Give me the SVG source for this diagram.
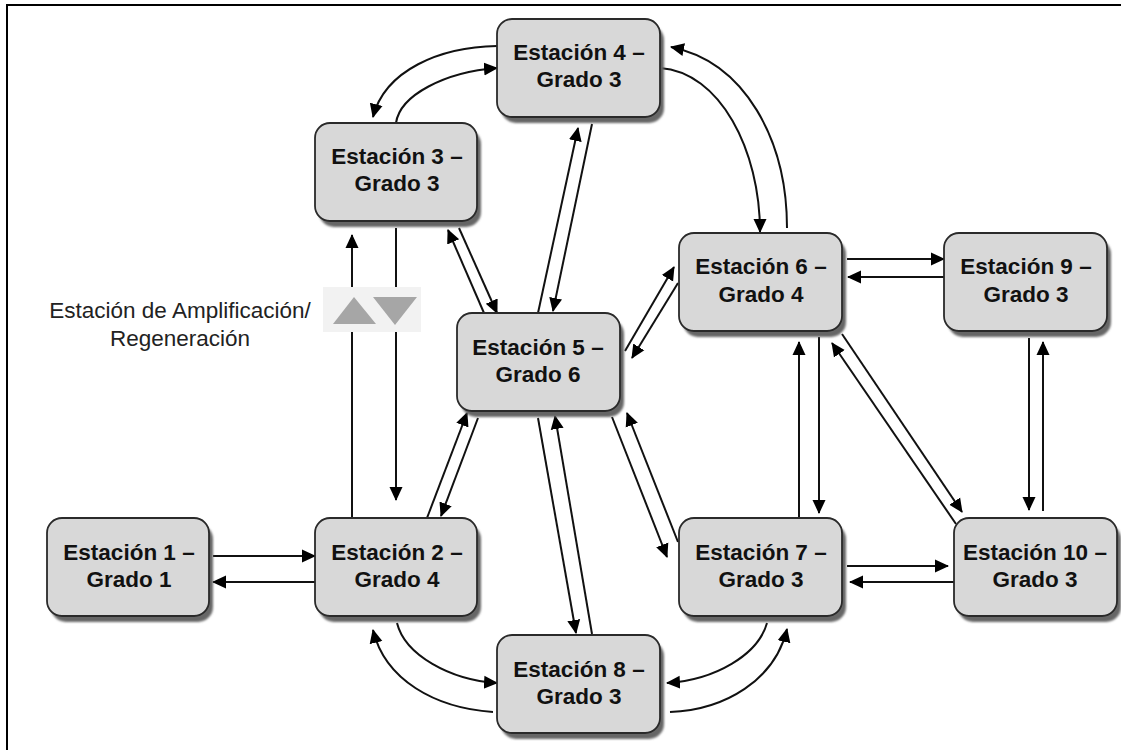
<svg xmlns="http://www.w3.org/2000/svg" width="1121" height="750" viewBox="0 0 1121 750">
<style>
.box{fill:#d8d8d8;stroke:#2a2a2a;stroke-width:1.8}
.shadow{fill:#666;filter:url(#soft)}
.lbl{font-family:"Liberation Sans",Arial,sans-serif;font-weight:bold;font-size:22.5px;fill:#111;text-anchor:middle}
.legend{font-family:"Liberation Sans",Arial,sans-serif;font-size:22.5px;fill:#222;text-anchor:middle}
#connectors path{fill:none;stroke:#111;stroke-width:2;marker-end:url(#arrow)}
</style>
<defs>
<filter id="soft" x="-10%" y="-10%" width="120%" height="120%"><feGaussianBlur stdDeviation="0.8"/></filter>
<marker id="arrow" markerUnits="userSpaceOnUse" markerWidth="16" markerHeight="16" refX="13" refY="7" orient="auto"><path d="M0 0.5L14 7L0 13.5Z" fill="#000"/></marker>
</defs>
<rect width="1121" height="750" fill="#fff"/>
<path d="M7 750V5H1121" fill="none" stroke="#000" stroke-width="2"/>
<g id="connectors">
<path d="M213 556H315"/>
<path d="M315 582H213"/>
<path d="M352 518V235"/>
<path d="M396 228V500"/>
<path d="M459 228L497 313"/>
<path d="M484 313L448 230"/>
<path d="M497 46C440 47 385 70 373 117"/>
<path d="M396 123C400 95 445 72 497 68"/>
<path d="M538 313L578 128"/>
<path d="M592 124L553 311"/>
<path d="M625 351L674 267"/>
<path d="M678 283L632 358"/>
<path d="M427 518L467 413"/>
<path d="M478 418L441 516"/>
<path d="M538 418L576 633"/>
<path d="M592 634L555 416"/>
<path d="M612 417L667 557"/>
<path d="M678 542L627 413"/>
<path d="M799 518V342"/>
<path d="M819 337V513"/>
<path d="M842 334L962 512"/>
<path d="M956 524L832 343"/>
<path d="M847 259H944"/>
<path d="M944 277H848"/>
<path d="M1029 338V510"/>
<path d="M1043 511V342"/>
<path d="M847 566H948"/>
<path d="M954 582H850"/>
<path d="M660 68C720 72 760 150 760 232"/>
<path d="M787 228C787 140 745 62 671 47"/>
<path d="M397 623C405 655 450 680 497 683"/>
<path d="M493 712C435 708 385 680 373 630"/>
<path d="M767 623C758 655 715 680 667 683"/>
<path d="M670 712C725 710 775 680 787 629"/>
</g>
<g id="amplificador">
<rect x="323" y="287" width="98" height="45" fill="#f2f2f2"/>
<path d="M333 324L376 324L354 297Z" fill="#a6a6a6"/>
<path d="M373 297L417 297L395 325Z" fill="#a6a6a6"/>
<text class="legend" x="180" y="318">Estación de Amplificación/</text>
<text class="legend" x="180" y="346">Regeneración</text>
</g>
<g id="s1"><rect class="shadow" x="51" y="524" width="162" height="98" rx="15"/><rect class="box" x="47" y="518" width="162" height="98" rx="15"/><text class="lbl" x="129" y="560">Estación 1 –</text><text class="lbl" x="129" y="587">Grado 1</text></g>
<g id="s2"><rect class="shadow" x="319" y="524" width="162" height="98" rx="15"/><rect class="box" x="315" y="518" width="162" height="98" rx="15"/><text class="lbl" x="397" y="560">Estación 2 –</text><text class="lbl" x="397" y="587">Grado 4</text></g>
<g id="s3"><rect class="shadow" x="319" y="129" width="162" height="98" rx="15"/><rect class="box" x="315" y="123" width="162" height="98" rx="15"/><text class="lbl" x="397" y="164">Estación 3 –</text><text class="lbl" x="397" y="191">Grado 3</text></g>
<g id="s4"><rect class="shadow" x="501" y="25" width="163" height="98" rx="15"/><rect class="box" x="497" y="19" width="163" height="98" rx="15"/><text class="lbl" x="579" y="60">Estación 4 –</text><text class="lbl" x="579" y="87">Grado 3</text></g>
<g id="s5"><rect class="shadow" x="461" y="319" width="163" height="98" rx="15"/><rect class="box" x="457" y="313" width="163" height="98" rx="15"/><text class="lbl" x="538" y="355">Estación 5 –</text><text class="lbl" x="538" y="382">Grado 6</text></g>
<g id="s6"><rect class="shadow" x="683" y="239" width="163" height="98" rx="15"/><rect class="box" x="679" y="233" width="163" height="98" rx="15"/><text class="lbl" x="761" y="274">Estación 6 –</text><text class="lbl" x="761" y="302">Grado 4</text></g>
<g id="s7"><rect class="shadow" x="683" y="524" width="163" height="98" rx="15"/><rect class="box" x="679" y="518" width="163" height="98" rx="15"/><text class="lbl" x="761" y="560">Estación 7 –</text><text class="lbl" x="761" y="587">Grado 3</text></g>
<g id="s8"><rect class="shadow" x="501" y="641" width="163" height="98" rx="15"/><rect class="box" x="497" y="635" width="163" height="98" rx="15"/><text class="lbl" x="579" y="677">Estación 8 –</text><text class="lbl" x="579" y="704">Grado 3</text></g>
<g id="s9"><rect class="shadow" x="948" y="239" width="163" height="98" rx="15"/><rect class="box" x="944" y="233" width="163" height="98" rx="15"/><text class="lbl" x="1026" y="274">Estación 9 –</text><text class="lbl" x="1026" y="302">Grado 3</text></g>
<g id="s10"><rect class="shadow" x="958" y="524" width="163" height="98" rx="15"/><rect class="box" x="954" y="518" width="163" height="98" rx="15"/><text class="lbl" x="1035" y="560">Estación 10 –</text><text class="lbl" x="1035" y="587">Grado 3</text></g>
</svg>
